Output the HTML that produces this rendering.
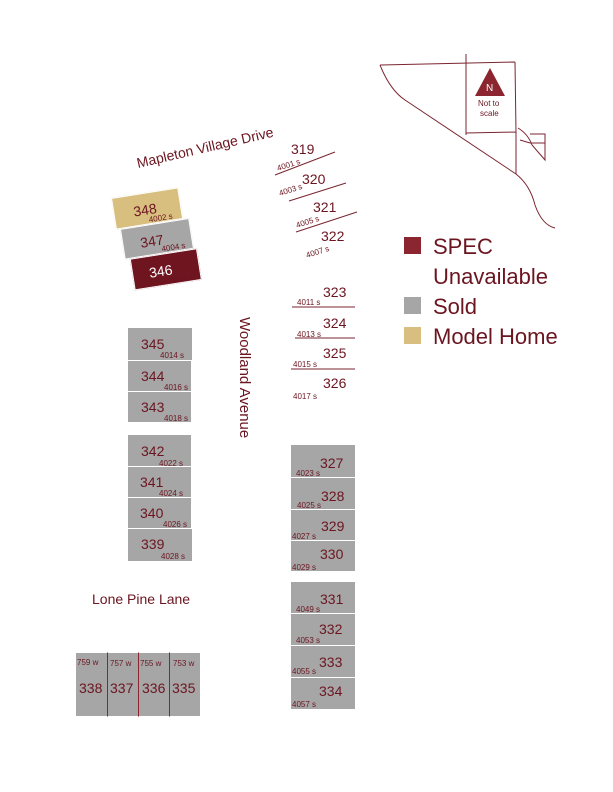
<!DOCTYPE html><html><head><style>
body{margin:0;width:613px;height:792px;background:#fff;position:relative;overflow:hidden;font-family:"Liberation Sans",sans-serif;color:#6b1520}
.l{position:absolute;background:#a6a6a6;box-sizing:border-box;border:1px solid #fff}
.n{position:absolute;font-size:14px}
.a{position:absolute;font-size:8px}
</style></head><body>
<svg width="613" height="792" style="position:absolute;left:0;top:0" font-family="Liberation Sans, sans-serif" fill="#6b1520">
<g stroke="#7a2530" fill="none" stroke-width="1">
<line x1="275" y1="175" x2="335" y2="152"/>
<line x1="289" y1="201" x2="346" y2="183"/>
<line x1="296" y1="232" x2="357" y2="212"/>
<line x1="292" y1="307" x2="355" y2="307"/>
<line x1="295" y1="338" x2="355" y2="338"/>
<line x1="291" y1="369" x2="355" y2="369"/>
<path d="M380 65 L515 62 M380 65 Q390 90 405 100 L516 174 Q530 185 535 205 Q542 225 555 228 M466 54 L466 135 M466 133 L516 132 M515 62 L516 132 M516 132 L516 174 M518 128 Q528 134 532 145 L545 160 L545 134 L530 134 M520 140 L530 143 L545 143"/>
</g>
<polygon points="490,68 475,96 505,96" fill="#8b2530"/>
<text x="486" y="91" font-size="10" fill="#fff">N</text>
<text x="478" y="106" font-size="8">Not to</text>
<text x="480" y="116" font-size="8">scale</text>
<text x="138" y="168" font-size="14" transform="rotate(-13 138 168)">Mapleton Village Drive</text>
<text x="240" y="317" font-size="15" transform="rotate(90 240 317)">Woodland Avenue</text>
<text x="92" y="604" font-size="14">Lone Pine Lane</text>
<g font-size="14"><text x="291" y="154">319</text><text x="302" y="184">320</text><text x="313" y="212">321</text><text x="321" y="241">322</text>
<text x="323" y="297">323</text><text x="323" y="328">324</text><text x="323" y="358">325</text><text x="323" y="388">326</text></g>
<g font-size="8"><text x="278" y="171" transform="rotate(-18 278 171)">4001 s</text><text x="280" y="196" transform="rotate(-18 280 196)">4003 s</text>
<text x="297" y="228" transform="rotate(-18 297 228)">4005 s</text><text x="307" y="258" transform="rotate(-18 307 258)">4007 s</text>
<text x="297" y="305">4011 s</text><text x="297" y="337">4013 s</text><text x="293" y="367">4015 s</text><text x="293" y="399">4017 s</text></g>
<rect x="404" y="237" width="17" height="17" fill="#8b2530"/>
<rect x="404" y="297" width="17" height="17" fill="#a6a6a6"/>
<rect x="404" y="327" width="17" height="17" fill="#d9bf7f"/>
<g font-size="22"><text x="433" y="254">SPEC</text><text x="433" y="284">Unavailable</text><text x="433" y="314">Sold</text><text x="433" y="344">Model Home</text></g>
</svg>
<div style="position:absolute;left:111px;top:198px;width:80px;height:100px;transform:rotate(-9deg);transform-origin:0 0">
<div class="l" style="left:0;top:0;width:68px;height:32px;background:#d9bf7f"></div><div class="n" style="left:20px;top:9px">348</div><div class="a" style="left:34px;top:23px">4002 s</div>
<div class="l" style="left:4px;top:32px;width:70px;height:31px"></div><div class="n" style="left:22px;top:41px">347</div><div class="a" style="left:42px;top:54px">4004 s</div>
<div class="l" style="left:9px;top:63px;width:68px;height:32px;background:#6e1520"></div><div class="n" style="left:26px;top:72px;color:#fff">346</div><div class="a" style="left:46px;top:86px">4006 s</div>
</div>
<div class="l" style="left:127px;top:327px;width:66px;height:34px"></div><div class="n" style="left:141px;top:336px">345</div><div class="a" style="left:160px;top:351px">4014 s</div>
<div class="l" style="left:127px;top:360px;width:65px;height:32px"></div><div class="n" style="left:141px;top:368px">344</div><div class="a" style="left:164px;top:383px">4016 s</div>
<div class="l" style="left:127px;top:391px;width:65px;height:32px"></div><div class="n" style="left:141px;top:399px">343</div><div class="a" style="left:164px;top:414px">4018 s</div>
<div class="l" style="left:127px;top:434px;width:65px;height:33px"></div><div class="n" style="left:141px;top:443px">342</div><div class="a" style="left:159px;top:459px">4022 s</div>
<div class="l" style="left:127px;top:466px;width:65px;height:32px"></div><div class="n" style="left:140px;top:474px">341</div><div class="a" style="left:159px;top:489px">4024 s</div>
<div class="l" style="left:127px;top:497px;width:65px;height:32px"></div><div class="n" style="left:140px;top:505px">340</div><div class="a" style="left:163px;top:520px">4026 s</div>
<div class="l" style="left:127px;top:528px;width:66px;height:34px"></div><div class="n" style="left:141px;top:536px">339</div><div class="a" style="left:161px;top:552px">4028 s</div>
<div class="l" style="left:290px;top:444px;width:66px;height:34px"></div><div class="n" style="left:320px;top:455px">327</div><div class="a" style="left:296px;top:469px">4023 s</div>
<div class="l" style="left:290px;top:477px;width:66px;height:33px"></div><div class="n" style="left:321px;top:488px">328</div><div class="a" style="left:297px;top:501px">4025 s</div>
<div class="l" style="left:290px;top:509px;width:66px;height:32px"></div><div class="n" style="left:321px;top:518px">329</div><div class="a" style="left:292px;top:532px">4027 s</div>
<div class="l" style="left:290px;top:540px;width:66px;height:32px"></div><div class="n" style="left:320px;top:546px">330</div><div class="a" style="left:292px;top:563px">4029 s</div>
<div class="l" style="left:290px;top:581px;width:66px;height:33px"></div><div class="n" style="left:320px;top:591px">331</div><div class="a" style="left:296px;top:605px">4049 s</div>
<div class="l" style="left:290px;top:613px;width:66px;height:33px"></div><div class="n" style="left:319px;top:621px">332</div><div class="a" style="left:296px;top:636px">4053 s</div>
<div class="l" style="left:290px;top:645px;width:66px;height:33px"></div><div class="n" style="left:319px;top:654px">333</div><div class="a" style="left:292px;top:667px">4055 s</div>
<div class="l" style="left:290px;top:677px;width:66px;height:33px"></div><div class="n" style="left:319px;top:683px">334</div><div class="a" style="left:292px;top:700px">4057 s</div>
<div class="l" style="left:75px;top:652px;width:33px;height:65px"></div><div class="a" style="left:77px;top:658px">759 w</div><div class="n" style="left:79px;top:680px">338</div>
<div class="l" style="left:107px;top:652px;width:32px;height:65px;border-left:1px solid #8b2530"></div><div class="a" style="left:110px;top:659px">757 w</div><div class="n" style="left:110px;top:680px">337</div>
<div class="l" style="left:138px;top:652px;width:32px;height:65px;border-left:1px solid #8b2530"></div><div class="a" style="left:140px;top:659px">755 w</div><div class="n" style="left:142px;top:680px">336</div>
<div class="l" style="left:169px;top:652px;width:32px;height:65px;border-left:1px solid #8b2530"></div><div class="a" style="left:173px;top:659px">753 w</div><div class="n" style="left:172px;top:680px">335</div>
</body></html>
